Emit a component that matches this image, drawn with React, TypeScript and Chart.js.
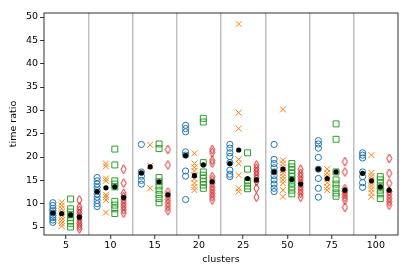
import React, { useEffect, useRef } from 'react';
import { Chart, registerables } from 'chart.js';
Chart.register(...registerables);

const clusters = ['5', '10', '15', '20', '25', '50', '75', '100'];
const yTicks = [5, 10, 15, 20, 25, 30, 35, 40, 45, 50];

const blueVals = [
  [10.2, 9.6, 9.0, 8.5, 8.0, 7.5, 7.0, 6.5, 6.0],
  [15.6, 14.9, 14.2, 13.5, 12.8, 12.1, 11.4, 10.7, 10.0, 9.4],
  [22.7, 16.8, 15.9, 15.0, 14.2],
  [26.8, 26.1, 25.4, 21.1, 20.4, 17.0, 15.9, 10.9],
  [22.7, 21.9, 20.9, 20.1, 18.8, 17.2, 16.3, 15.8],
  [22.7, 19.5, 18.6, 17.7, 16.8, 16.0, 15.1, 14.2, 13.3, 12.6],
  [23.5, 22.8, 21.9, 19.9, 17.4, 15.4, 13.3, 11.4],
  [20.9, 20.4, 19.8, 16.8, 15.8, 14.5, 13.5],
];
const orangeVals = [
  [10.3, 9.6, 8.9, 8.2, 7.6, 7.0, 6.4, 5.8, 5.2],
  [18.6, 18.0, 15.4, 14.9, 11.9, 11.4, 10.8, 8.1],
  [22.6, 18.1, 13.3],
  [20.8, 18.6, 17.8, 17.0, 16.1, 15.3, 14.4, 13.6, 12.9],
  [48.5, 29.5, 26.1, 19.5, 18.6, 16.1, 13.3, 12.6],
  [30.2, 19.3, 18.6, 17.8, 17.2, 16.5, 15.8, 15.1, 14.4, 12.9, 11.5],
  [17.4, 16.6, 15.9, 15.2, 14.5, 13.6, 12.9],
  [20.4, 16.6, 15.9, 15.2, 14.5, 13.8, 13.1, 12.3, 11.5],
];
const greenVals = [
  [11.0, 8.9, 8.2, 7.6, 7.0, 6.4, 5.8, 5.0],
  [21.7, 18.3, 14.9, 14.2, 13.6, 10.5, 9.7, 8.9, 7.9],
  [22.8, 21.8, 15.6, 14.7, 13.8, 12.9, 12.0, 11.1, 10.2],
  [28.3, 27.5, 18.8, 16.8, 16.1, 15.4, 14.7, 14.0, 13.3],
  [20.9, 17.4, 14.9, 14.4, 13.8, 13.2],
  [18.6, 17.9, 17.2, 16.5, 15.8, 15.1, 14.4, 13.6, 12.9, 12.1],
  [27.1, 23.8, 16.8, 15.1, 14.2, 13.3, 12.3, 11.6],
  [15.8, 15.1, 14.4, 13.6, 12.9, 12.1, 11.1],
];
const redVals = [
  [10.8, 9.3, 8.6, 7.9, 7.2, 6.5, 5.8, 5.2, 4.6],
  [17.4, 14.4, 12.2, 11.5, 10.8, 10.1, 9.4, 8.7, 8.0],
  [21.6, 18.3, 12.5, 11.7, 10.9, 10.1, 9.3, 8.5],
  [21.6, 21.0, 19.3, 18.7, 15.8, 15.1, 14.4, 13.6, 12.9, 12.2, 11.5, 10.8],
  [18.3, 17.6, 16.9, 16.2, 15.5, 14.8, 13.3, 11.4],
  [17.4, 16.5, 15.8, 15.1, 14.4, 13.6, 12.9, 12.2, 11.4],
  [19.0, 16.8, 13.2, 12.6, 12.0, 11.4, 10.8, 9.2],
  [19.7, 16.5, 14.4, 12.6, 11.9, 11.1, 10.4, 9.7],
];

const blueMean = [8.0, 12.6, 16.6, 20.3, 18.6, 16.8, 17.4, 16.5];
const orangeMean = [7.9, 13.4, 17.9, 16.0, 21.5, 17.4, 15.4, 14.9];
const greenMean = [7.6, 13.6, 14.7, 18.3, 15.4, 15.2, 16.8, 13.6];
const redMean = [7.1, 11.3, 11.9, 14.7, 15.1, 14.2, 12.9, 12.9];

const offsets = [-0.3, -0.1, 0.1, 0.3];

function toPoints(vals: number[][], off: number) {
  const pts: { x: number; y: number }[] = [];
  vals.forEach((arr, i) => arr.forEach((v) => pts.push({ x: i + off, y: v })));
  return pts;
}
function meanPoints(vals: number[], off: number) {
  return vals.map((v, i) => ({ x: i + off, y: v }));
}

function makeDiamond(color: string) {
  const c = document.createElement('canvas');
  c.width = 7;
  c.height = 11;
  const g = c.getContext('2d')!;
  g.strokeStyle = color;
  g.lineWidth = 1;
  g.beginPath();
  g.moveTo(3.5, 1);
  g.lineTo(6, 5.5);
  g.lineTo(3.5, 10);
  g.lineTo(1, 5.5);
  g.closePath();
  g.stroke();
  return c;
}

const framePlugin = {
  id: 'frame',
  afterDraw(chart: any) {
    const { ctx, chartArea: a } = chart;
    ctx.save();
    ctx.strokeStyle = '#000';
    ctx.lineWidth = 0.8;
    ctx.strokeRect(a.left, a.top, a.right - a.left, a.bottom - a.top);
    ctx.restore();
  },
};

export default function App() {
  const ref = useRef<HTMLCanvasElement | null>(null);
  useEffect(() => {
    if (!ref.current) return;
    const font = { family: 'DejaVu Sans', size: 9.5 };
    const xTickVals: number[] = [];
    for (let k = 0; k <= clusters.length * 2; k++) xTickVals.push(-0.5 + k * 0.5);
    const common = { showLine: false, pointBorderWidth: 1, pointBackgroundColor: 'rgba(0,0,0,0)', order: 1 };
    const meanDs = (vals: number[], off: number) => ({
      data: meanPoints(vals, off),
      pointStyle: 'circle',
      pointRadius: 2.6,
      pointBackgroundColor: '#000',
      pointBorderColor: '#000',
      pointBorderWidth: 0,
      showLine: false,
      order: 0,
    });
    const chart = new Chart(ref.current, {
      type: 'scatter',
      data: {
        datasets: [
          meanDs(blueMean, offsets[0]),
          meanDs(orangeMean, offsets[1]),
          meanDs(greenMean, offsets[2]),
          meanDs(redMean, offsets[3]),
          { ...common, data: toPoints(blueVals, offsets[0]), pointStyle: 'circle', pointRadius: 3.1, pointBorderColor: '#1f77b4' },
          { ...common, data: toPoints(orangeVals, offsets[1]), pointStyle: 'crossRot', pointRadius: 4.2, pointBorderColor: '#ff7f0e' },
          { ...common, data: toPoints(greenVals, offsets[2]), pointStyle: 'rect', pointRadius: 4.2, pointBorderColor: '#2ca02c' },
          { ...common, data: toPoints(redVals, offsets[3]), pointStyle: makeDiamond('#d62728'), pointRadius: 4, pointBorderColor: '#d62728' },
        ] as any,
      },
      options: {
        animation: false,
        responsive: false,
        maintainAspectRatio: false,
        layout: { padding: { top: 13, right: 13, left: 0, bottom: 0 } },
        plugins: { legend: { display: false }, tooltip: { enabled: false } },
        scales: {
          x: {
            type: 'linear',
            min: -0.5,
            max: 7.5,
            afterBuildTicks: (s: any) => {
              s.ticks = xTickVals.map((v) => ({ value: v }));
            },
            afterFit: (s: any) => {
              s.height = 39;
            },
            ticks: {
              autoSkip: false,
              maxRotation: 0,
              color: '#000',
              font,
              padding: 1,
              callback: (v: any) => (Number.isInteger(v) ? clusters[v] : ''),
            },
            grid: {
              color: (ctx: any) => {
                const v = ctx.tick ? ctx.tick.value : 0;
                return !Number.isInteger(v) && v > -0.5 && v < 7.5 ? 'rgba(0,0,0,0.25)' : 'rgba(0,0,0,0)';
              },
              tickColor: (ctx: any) => {
                const v = ctx.tick ? ctx.tick.value : 0;
                return Number.isInteger(v) ? '#000' : 'rgba(0,0,0,0)';
              },
              lineWidth: 1.5,
              tickWidth: 0.8,
              tickLength: 4,
            },
            border: { display: false },
            title: { display: true, text: 'clusters', color: '#000', font, padding: { top: 0, bottom: 9 } },
          },
          y: {
            type: 'linear',
            min: 3.29,
            max: 50.86,
            afterBuildTicks: (s: any) => {
              s.ticks = yTicks.map((v) => ({ value: v }));
            },
            afterFit: (s: any) => {
              s.width = 44;
            },
            ticks: { color: '#000', font, padding: 2 },
            grid: { drawOnChartArea: false, tickColor: '#000', tickLength: 4, tickWidth: 0.8 },
            border: { display: false },
            title: { display: true, text: 'time ratio', color: '#000', font, padding: { top: 8, bottom: 0 } },
          },
        },
      } as any,
      plugins: [framePlugin],
    });
    return () => chart.destroy();
  }, []);
  return (
    <div style={{ position: 'fixed', left: 0, top: 0, width: 411, height: 274, background: '#fff' }}>
      <canvas ref={ref} width={411} height={274} style={{ width: 411, height: 274 }} />
    </div>
  );
}
